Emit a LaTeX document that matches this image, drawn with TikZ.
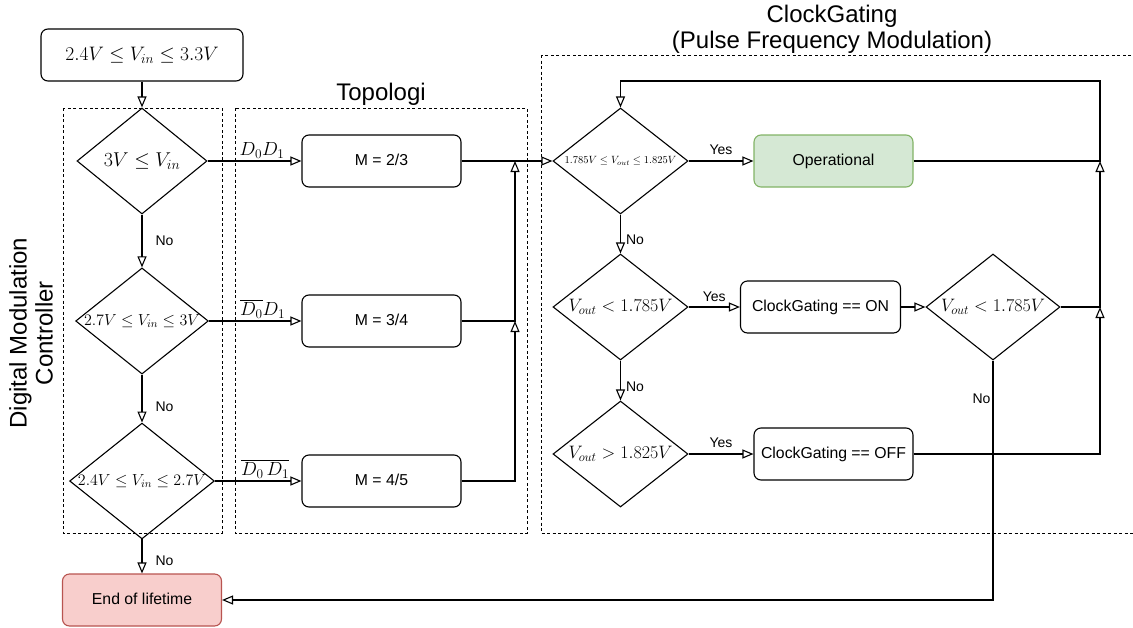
\RequirePackage{fix-cm}
\documentclass[tikz,border=0pt]{standalone}
\usepackage[no-math]{fontspec}
\setmainfont{Liberation Sans}
\usepackage{amsmath}
\usetikzlibrary{shapes.geometric,arrows.meta,positioning}
\definecolor{okfill}{HTML}{D5E8D4}
\definecolor{okline}{HTML}{82B366}
\definecolor{endfill}{HTML}{F8CECC}
\definecolor{endline}{HTML}{B85450}

\begin{document}
\begin{tikzpicture}[x=1pt,y=-1pt,
proc/.style={
	draw,
	rounded corners=7pt,
	line width=1.1pt,
	minimum width=159pt,
	minimum height=52pt,
	text depth=2pt,
	font=\fontsize{15.8}{18}\selectfont
},
deci/.style={
	draw,
	diamond,
	aspect=1.25,
	inner sep=0pt,
	line width=1.1pt,
	minimum width=130pt,
	minimum height=106pt
},
grp/.style={draw, line width=0.8pt, dash pattern=on 3pt off 2.5pt},
lbl/.style={font=\fontsize{14}{16}\selectfont, inner sep=1pt},
ttl/.style={font=\fontsize{24}{26}\selectfont, align=center, inner sep=0pt},
flow/.style={-{Triangle[open,length=11pt,width=9pt]}, line width=1.1pt}
]
\useasboundingbox (0,0) rectangle (1133,627);
\clip (0,0) rectangle (1133,627);

% groups
\draw[grp] (63,108) rectangle (222,533);
\draw[grp] (235,108) rectangle (527,533);
\draw[grp] (541,55) rectangle (1150,533);
\node[ttl, rotate=90] (dmct) at (31,333) {Digital Modulation\\Controller};
\node[ttl] (topot) at (381,94) {Topologi};
\node[ttl] (cgt) at (832,29) {ClockGating\\(Pulse Frequency Modulation)};

% controller
\node[proc, minimum width=202pt, font=\fontsize{19.5}{22}\selectfont] (vin) at (142,55)
{$2.4V \leq V_{in} \leq 3.3V$};
\node[deci, font=\fontsize{20}{24}\selectfont] (d1) at (142,161) {$3V \leq V_{in}$};
\node[deci, font=\fontsize{16}{19}\selectfont] (d2) at (142,321) {$2.7V \leq V_{in} \leq 3V$};
\node[deci, font=\fontsize{16}{19}\selectfont] (d3) at (142,481) {$2.4V \leq V_{in} \leq 2.7V$};
\node[proc, fill=endfill, draw=endline] (eol) at (142,600) {End of lifetime};

% topologi
\node[proc] (m1) at (381.5,161) {M = 2/3};
\node[proc] (m2) at (381.5,321) {M = 3/4};
\node[proc] (m3) at (381.5,481) {M = 4/5};

% clock gating
\node[deci, minimum width=135pt, font=\fontsize{10.5}{12}\selectfont] (c1) at (620.5,161)
{$1.785V \leq V_{out} \leq 1.825V$};
\node[deci, minimum width=135pt, font=\fontsize{18}{21}\selectfont] (c2) at (620.5,307) {$V_{out} < 1.785V$};
\node[deci, minimum width=135pt, font=\fontsize{18}{21}\selectfont] (c4) at (620.5,454) {$V_{out} > 1.825V$};
\node[proc, fill=okfill, draw=okline] (op) at (833.5,161) {Operational};
\node[proc, minimum width=160pt] (on) at (820.5,307) {ClockGating == ON};
\node[proc] (off) at (833.5,454) {ClockGating == OFF};
\node[deci, minimum width=134pt, font=\fontsize{18}{21}\selectfont] (c3) at (993,307) {$V_{out} < 1.785V$};

\coordinate (j1) at (515,161);
\coordinate (j2) at (515,321);
\coordinate (r0) at (1100,81);
\coordinate (j3) at (1100,161);
\coordinate (j4) at (1100,307);

\draw[flow] (vin) -- (d1);
\draw[flow] (d1) -- node[lbl, right=12pt] {No} (d2);
\draw[flow] (d2) -- node[lbl, right=12pt, yshift=-8pt] {No} (d3);
\draw[flow] (d3) -- node[lbl, right=12pt, yshift=-4pt] {No} (eol);

\draw[flow] (d1) -- node[pos=0.58, above=-1pt, font=\fontsize{19}{22}\selectfont] {$D_0D_1$} (m1);
\draw[flow] (d2) -- node[pos=0.58, above=-1pt, font=\fontsize{19}{22}\selectfont] {$\overline{D_0}D_1$} (m2);
\draw[flow] (d3) -- node[pos=0.58, above=-1pt, font=\fontsize{19}{22}\selectfont] {$\overline{D_0\,D_1}$} (m3);

\draw[flow] (m1) -- (c1);
\draw[flow] (m2.east) -| (j1);
\draw[flow] (m3.east) -| (j2);

\draw[flow] (c1) -- node[lbl, above=5pt] {Yes} (op);
\draw[flow] (op.east) -| (r0) -| (c1.north);
\draw[flow] (c1) -- node[lbl, right=4pt, yshift=-6pt] {No} (c2);
\draw[flow] (c2) -- node[lbl, above=4pt] {Yes} (on);
\draw[flow] (on) -- (c3);
\draw[flow] (c2) -- node[lbl, right=4pt, yshift=-6pt] {No} (c4);
\draw[flow] (c4) -- node[lbl, above=5pt] {Yes} (off);
\draw[flow] (off.east) -| (j4);
\draw[flow] (c3.east) -| (j3);
\draw[flow] (c3.south) |- node[lbl, pos=0.08, left=1pt] {No} (eol.east);

\end{tikzpicture}
\end{document}
